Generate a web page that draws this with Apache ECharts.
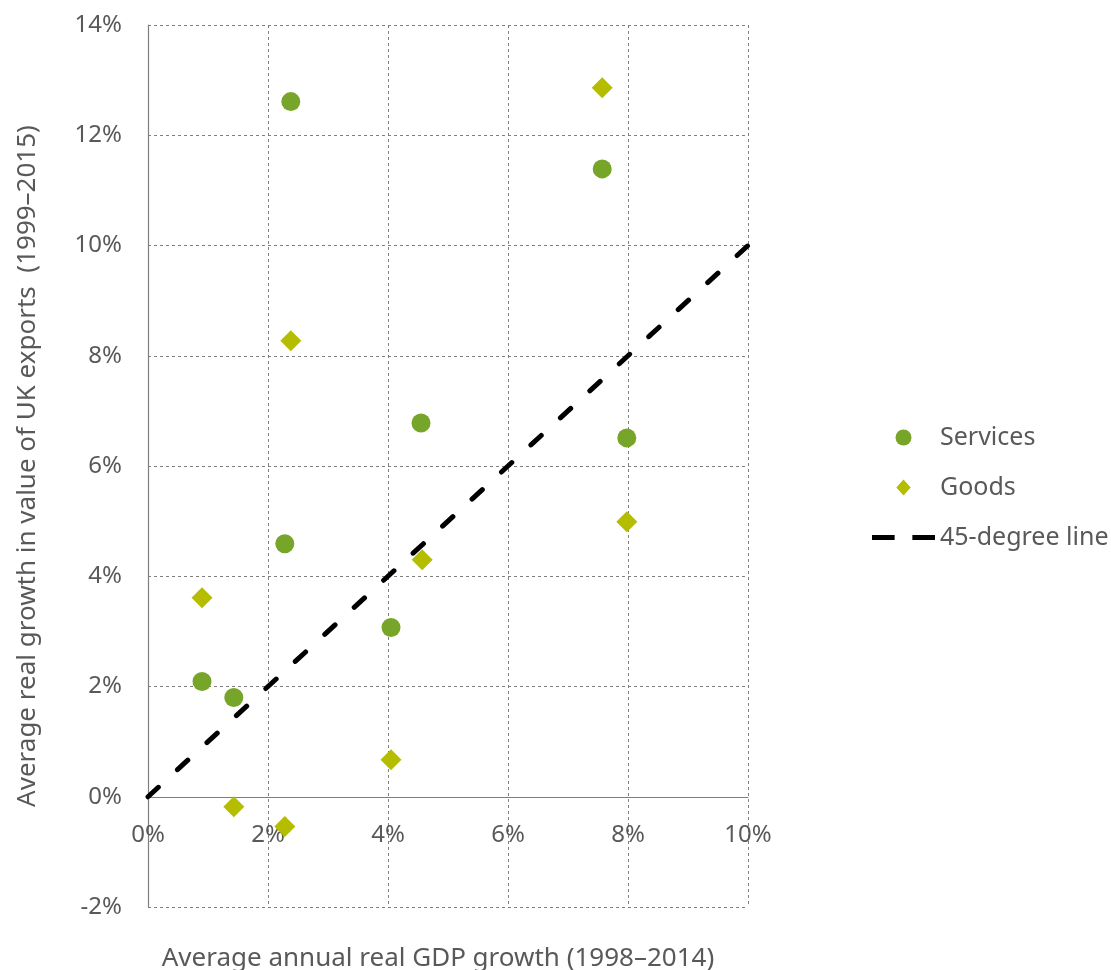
<!DOCTYPE html>
<html>
<head>
<meta charset="utf-8">
<script src="https://cdn.jsdelivr.net/npm/echarts@6/dist/echarts.min.js"></script>
<style>html,body{margin:0;padding:0;background:#fff}#c{width:1111px;height:970px}</style>
</head>
<body>
<div id="c"></div>
<script>
const servicesX = [2.38, 7.57, 4.55, 7.98, 2.28, 4.05, 0.90, 1.43];
const servicesY = [12.61, 11.39, 6.78, 6.51, 4.59, 3.07, 2.09, 1.80];
const goodsX = [7.57, 2.38, 7.98, 4.57, 0.90, 4.05, 1.43, 2.28];
const goodsY = [12.86, 8.27, 4.99, 4.30, 3.61, 0.67, -0.18, -0.54];
const lineX = [0, 10];
const lineY = [0, 10];
const seriesNames = ['Services', 'Goods', '45-degree line'];
const xTitle = 'Average annual real GDP growth (1998–2014)';
const yTitle = 'Average real growth in value of UK exports  (1999–2015)';

const zip = (a, b) => a.map((v, i) => [v, b[i]]);
const txt = '#595959';
const font = 'Noto Sans';
const chart = echarts.init(document.getElementById('c'));
chart.setOption({
  animation: false,
  textStyle: { fontFamily: font },
  grid: { left: 148, right: 363, top: 25, bottom: 63, containLabel: false, outerBoundsMode: 'none' },
  xAxis: {
    type: 'value', min: 0, max: 10, interval: 2,
    name: xTitle, nameLocation: 'middle', nameGap: 39,
    nameTextStyle: { color: txt, fontSize: 26, fontFamily: font, padding: [0, 20, 0, 0] },
    axisLine: { show: true, onZero: true, lineStyle: { color: '#7f7f7f', width: 1.2 } },
    axisTick: { show: false },
    axisLabel: { color: txt, fontSize: 24, margin: -84, fontFamily: font, formatter: v => v + '%' },
    splitLine: { show: true, lineStyle: { color: '#7f7f7f', type: [3, 3], width: 1 } }
  },
  yAxis: {
    type: 'value', min: -2, max: 14, interval: 2,
    name: yTitle, nameLocation: 'middle', nameGap: 107,
    nameTextStyle: { color: txt, fontSize: 26, fontFamily: font },
    axisLine: { show: true, onZero: false, lineStyle: { color: '#7f7f7f', width: 1.2 } },
    axisTick: { show: false },
    axisLabel: { color: txt, fontSize: 24, margin: 26, fontFamily: font, formatter: v => v + '%' },
    splitLine: { show: true, lineStyle: { color: '#7f7f7f', type: [3, 3], width: 1 } }
  },
  legend: {
    orient: 'vertical', left: 867, top: 420,
    itemWidth: 63, itemHeight: 16, itemGap: 25,
    symbolKeepAspect: true,
    textStyle: { color: txt, fontSize: 25, fontFamily: font },
    data: [
      { name: seriesNames[0], icon: 'path://M0,-1A1,1,0,1,1,0,1A1,1,0,1,1,0,-1Z' },
      { name: seriesNames[1], icon: 'path://M0,-1L0.9,0L0,1L-0.9,0Z' },
      { name: seriesNames[2], icon: 'path://M0,0h23v5h-23zM41,0h23v5h-23z' }
    ]
  },
  series: [
    {
      name: seriesNames[2], type: 'line', data: zip(lineX, lineY),
      symbol: 'none', z: 1,
      lineStyle: { color: '#000', width: 5, type: [14, 26], cap: 'round' },
      itemStyle: { color: '#000' }
    },
    {
      name: seriesNames[0], type: 'scatter', data: zip(servicesX, servicesY),
      symbol: 'circle', symbolSize: 19, z: 3,
      itemStyle: { color: '#76a52a', opacity: 1 }
    },
    {
      name: seriesNames[1], type: 'scatter', data: zip(goodsX, goodsY),
      symbol: 'diamond', symbolSize: 21, z: 3,
      itemStyle: { color: '#b4bd00', opacity: 1 }
    }
  ]
});
</script>
</body>
</html>
